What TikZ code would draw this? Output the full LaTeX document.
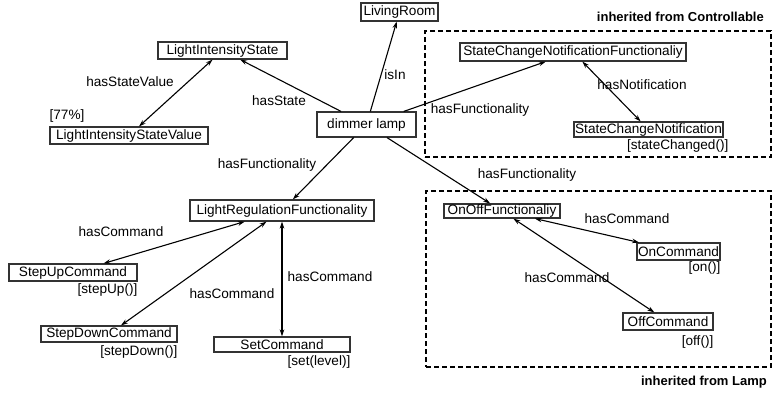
\documentclass[tikz,border=0pt]{standalone}
\usepackage{fontspec}
\setmainfont{Liberation Sans}
\usetikzlibrary{arrows.meta}
\begin{document}
\begin{tikzpicture}[x=1pt,y=-1pt,
  box/.style={draw=black!80, line width=1.1pt, inner sep=0pt, font=\fontsize{13.6}{16}\selectfont},
  lbl/.style={inner sep=0pt, font=\fontsize{13.6}{16}\selectfont},
  ttl/.style={inner sep=0pt, font=\fontsize{13}{16}\selectfont\bfseries},
  rel/.style={line width=1.1pt, -{Stealth[length=7pt,width=4.5pt]}},
  birel/.style={line width=1.1pt, {Stealth[length=7pt,width=4.5pt]}-{Stealth[length=7pt,width=4.5pt]}},
  grp/.style={draw, line width=1.9pt, dash pattern=on 5pt off 3pt, inner sep=0pt}
]
\useasboundingbox (0,0) rectangle (773,392);

% group frames
\node[grp, minimum width=346pt, minimum height=126pt] (ctrl) at (598,94) {};
\node[grp, minimum width=345pt, minimum height=176pt] (lamp) at (598.5,279) {};
\node[ttl, anchor=east] (tctrl) at (764,17) {inherited from Controllable};
\node[ttl, anchor=east] (tlamp) at (767,382) {inherited from Lamp};

% nodes
\node[box, minimum width=77pt, minimum height=18pt] (lr) at (399.5,12) {LivingRoom};
\node[box, minimum width=129pt, minimum height=17pt] (lis) at (222.5,50.5) {LightIntensityState};
\node[box, minimum width=158pt, minimum height=17pt] (lisv) at (129,135.5) {LightIntensityStateValue};
\node[box, minimum width=99pt, minimum height=25pt] (dl) at (366.5,124.5) {dimmer lamp};
\node[box, minimum width=184pt, minimum height=21pt] (lrf) at (282,210.5) {LightRegulationFunctionality};
\node[box, minimum width=128pt, minimum height=17pt] (su) at (73,272.5) {StepUpCommand};
\node[box, minimum width=136pt, minimum height=16pt] (sd) at (109,334) {StepDownCommand};
\node[box, minimum width=136pt, minimum height=15pt] (sc) at (282,344.5) {SetCommand};
\node[box, minimum width=226pt, minimum height=18pt] (scnf) at (573,52) {StateChangeNotificationFunctionaliy};
\node[box, minimum width=149pt, minimum height=15pt] (scn) at (648.5,129.5) {StateChangeNotification};
\node[box, minimum width=116pt, minimum height=14pt] (oof) at (502,211) {OnOffFunctionaliy};
\node[box, minimum width=83pt, minimum height=17pt] (onc) at (678.5,251.5) {OnCommand};
\node[box, minimum width=90pt, minimum height=17pt] (offc) at (668,321.5) {OffCommand};

% values
\node[lbl, anchor=south west, yshift=4pt] (v77) at (lisv.north west) {[77\%]};
\node[lbl, anchor=north east, yshift=-1.5pt] (vsu) at (su.south east) {[stepUp()]};
\node[lbl, anchor=north east, yshift=-2.4pt] (vsd) at (sd.south east) {[stepDown()]};
\node[lbl, anchor=north east, yshift=-2.4pt] (vsc) at (sc.south east) {[set(level)]};
\node[lbl, anchor=north east, yshift=-1.4pt, xshift=5pt] (vscn) at (scn.south east) {[stateChanged()]};
\node[lbl, anchor=north east, yshift=-0.5pt] (vonc) at (onc.south east) {[on()]};
\node[lbl, anchor=north east, yshift=-4.4pt] (voffc) at (offc.south east) {[off()]};

% edge labels
\node[lbl] (l1) at (130,82) {hasStateValue};
\node[lbl] (l2) at (279,101) {hasState};
\node[lbl] (l3) at (395,75) {isIn};
\node[lbl] (l4) at (267,165) {hasFunctionality};
\node[lbl] (l5) at (121,232) {hasCommand};
\node[lbl] (l6) at (232,294) {hasCommand};
\node[lbl] (l7) at (330,277) {hasCommand};
\node[lbl] (l8) at (480,110) {hasFunctionality};
\node[lbl] (l9) at (642,85) {hasNotification};
\node[lbl] (l10) at (527,175) {hasFunctionality};
\node[lbl] (l11) at (627,219) {hasCommand};
\node[lbl] (l12) at (567,278) {hasCommand};

% edges
\draw[rel] (dl) -- (lr);
\draw[rel] (dl) -- (lis);
\draw[birel] (lis) -- (lisv);
\draw[rel] (dl) -- (lrf);
\draw[rel] (dl) -- (scnf);
\draw[rel] (dl) -- (oof);
\draw[birel] (scnf) -- (scn);
\draw[birel] (lrf) -- (su);
\draw[birel] (lrf) -- (sd);
\draw[birel] (lrf) -- (sc);
\draw[birel] (oof) -- (onc);
\draw[birel] (oof) -- (offc);
\end{tikzpicture}
\end{document}
